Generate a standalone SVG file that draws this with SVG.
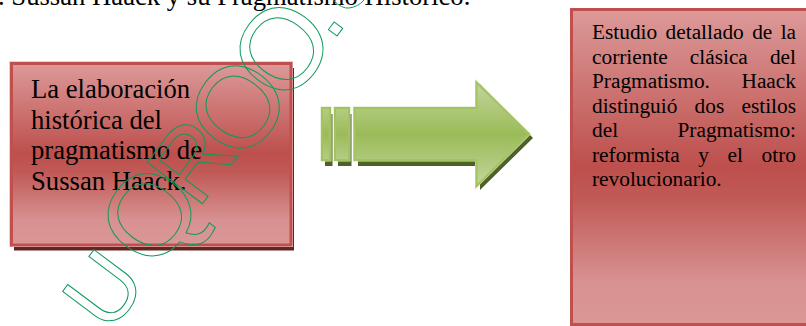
<svg xmlns="http://www.w3.org/2000/svg" width="806" height="326" viewBox="0 0 806 326">
<style>
.t{font-family:"Liberation Serif","Times New Roman",serif;fill:#000}
.b{font-size:26.67px}
.s{font-size:21.33px}
.box{stroke:#c0504d;stroke-width:3}
.wm{font-family:"Liberation Sans",Arial,sans-serif;fill:none;stroke:#0f9a5c;stroke-width:1}
.seg{fill:url(#gs);stroke:#a5c261;stroke-width:2}
.halo{fill:none;stroke:#d6e3bc;stroke-width:3}
</style>
<defs>
<linearGradient id="rg" x1="0" y1="0" x2="0" y2="1">
<stop offset="0" stop-color="#dc9a99"/><stop offset="0.5" stop-color="#bd4f4c"/><stop offset="0.6" stop-color="#c05a57"/><stop offset="0.86" stop-color="#d79190"/><stop offset="1" stop-color="#da9796"/>
</linearGradient>
<linearGradient id="gg" x1="0" y1="0" x2="0" y2="1">
<stop offset="0" stop-color="#c2d69b"/><stop offset="0.5" stop-color="#9bbb59"/><stop offset="1" stop-color="#c2d69b"/>
</linearGradient>
<linearGradient id="gs" x1="0" y1="0" x2="0" y2="1">
<stop offset="0" stop-color="#b4cd83"/><stop offset="0.5" stop-color="#9bbb59"/><stop offset="1" stop-color="#b4cd83"/>
</linearGradient>
</defs>
<text class="t b" y="5"><tspan x="-2">. Sussan Haack y su Pragmatismo Histórico.</tspan></text>
<g id="left-box">
<rect x="14" y="68" width="280" height="182.500" fill="#632523"/>
<rect x="9.500" y="61.500" width="283" height="185" fill="none" stroke="#f0cfce" stroke-width="1"/>
<rect x="11.500" y="63.500" width="279.500" height="181.500" fill="url(#rg)" class="box"/>
<text class="t b" x="31" y="98">La elaboración</text>
<text class="t b" x="31" y="129">histórica del</text>
<text class="t b" x="31" y="159">pragmatismo de</text>
<text class="t b" x="31" y="190">Sussan Haack.</text>
</g>
<g id="arrow">
<path d="M325 114H332.500V166H325ZM338 114H351.500V166H338ZM358 112H480V84L533 138L480 190V166H358Z" fill="#4e6128"/>
<path class="halo" d="M322 108H330V160H322ZM335 108H349V160H335ZM354.500 108H476.500V82.500L529 134L476.500 186V160H354.500Z"/>
<rect class="seg" x="322" y="108" width="8" height="52"/>
<rect class="seg" x="335" y="108" width="14" height="52"/>
<path d="M354.500 108H476.500V82.500L529 134L476.500 186V160H354.500Z" fill="url(#gg)" stroke="#a5c261" stroke-width="2"/>
</g>
<g id="right-box">
<rect x="571.500" y="9.500" width="240" height="315" fill="url(#rg)" class="box"/>
<text class="t s" y="39"><tspan x="592">Estudio</tspan><tspan x="665.600">detallado</tspan><tspan x="752.200">de</tspan><tspan x="780.700">la</tspan></text>
<text class="t s" y="63.500"><tspan x="592">corriente</tspan><tspan x="689.800">clásica</tspan><tspan x="769.900">del</tspan></text>
<text class="t s" y="88"><tspan x="592">Pragmatismo.</tspan><tspan x="741.500">Haack</tspan></text>
<text class="t s" y="112.500"><tspan x="592">distinguió</tspan><tspan x="694.600">dos</tspan><tspan x="741.500">estilos</tspan></text>
<text class="t s" y="137"><tspan x="592">del</tspan><tspan x="677.500">Pragmatismo:</tspan></text>
<text class="t s" y="161.500"><tspan x="592">reformista</tspan><tspan x="698.300">y</tspan><tspan x="727.600">el</tspan><tspan x="761.600">otro</tspan></text>
<text class="t s" y="186"><tspan x="592">revolucionario.</tspan></text>
</g>
<g id="watermark">
<text class="wm" transform="translate(115 327) rotate(-53.130)"><tspan x="-10" y="0" font-size="92">U</tspan><tspan x="66" y="0" font-size="115">Q</tspan><tspan x="143" y="-4" font-size="100">R</tspan><tspan x="205" y="6" font-size="115">O</tspan><tspan x="278" y="6" font-size="115">O</tspan><tspan x="357" y="3" font-size="100">.</tspan></text>
<path d="M333 0Q342 9 349 8Q358 7 364 0" fill="none" stroke="#0f9a5c"/>
</g>
</svg>
